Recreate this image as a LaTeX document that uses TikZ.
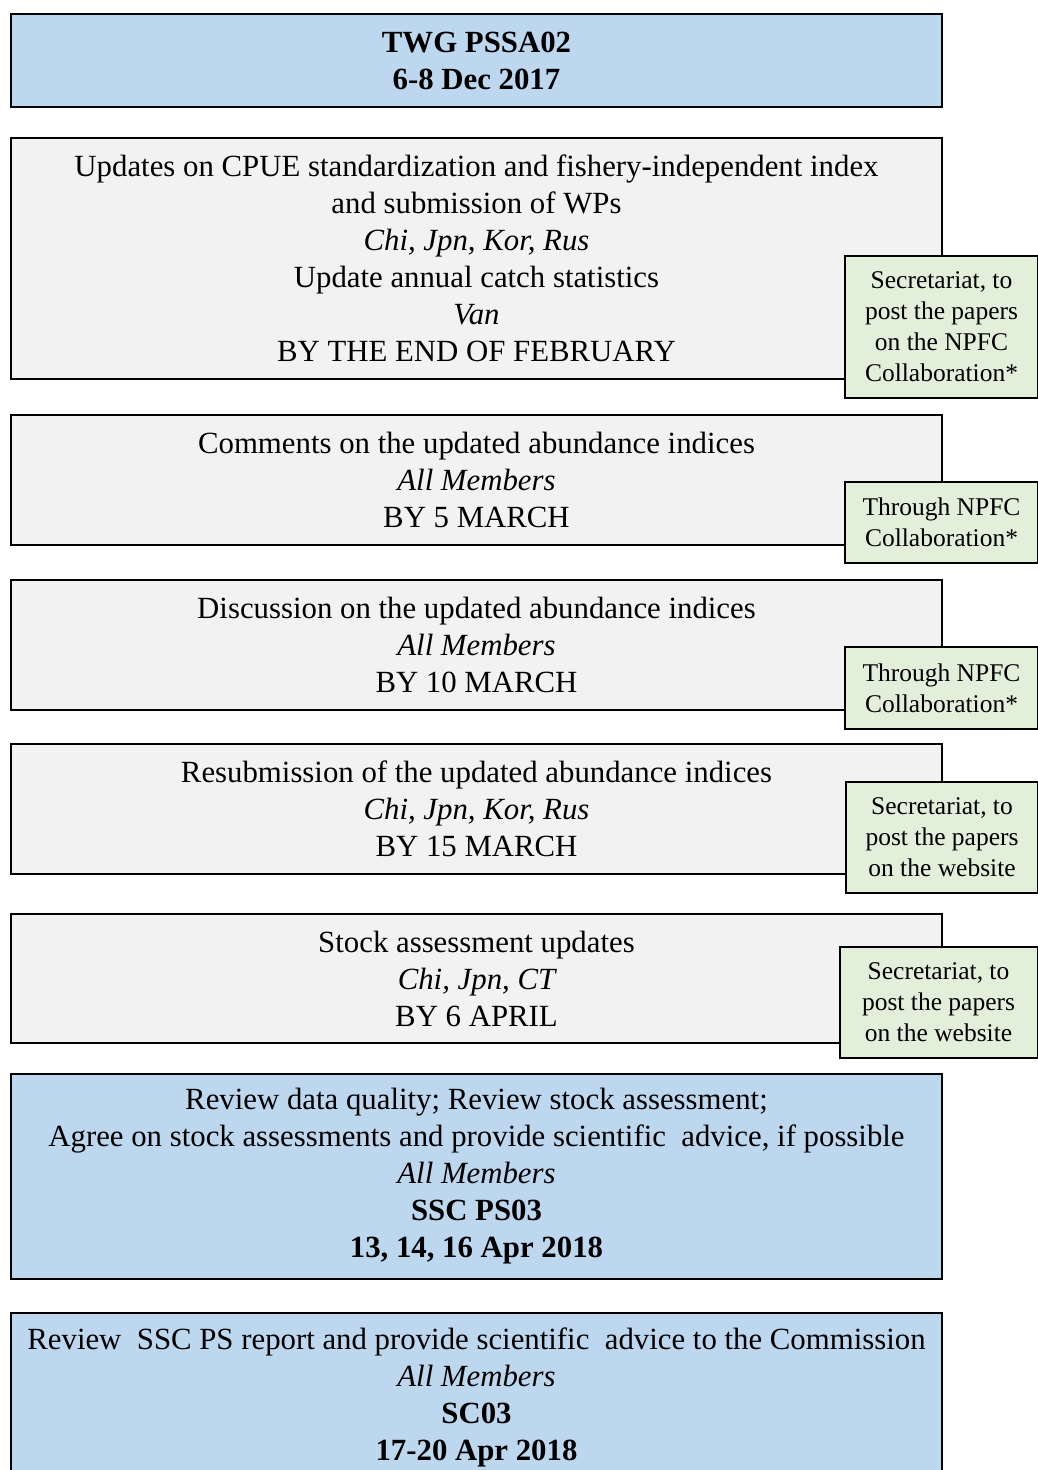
\documentclass[tikz,border=0pt]{standalone}
\usepackage{fontspec}
\setmainfont{Liberation Serif}
\usepackage{xcolor}
\definecolor{planblue}{HTML}{BDD7EE}
\definecolor{plangrey}{HTML}{F2F2F2}
\definecolor{plangreen}{HTML}{E2EFDA}
\tikzset{
	stagebox/.style={
		draw=black,
		line width=2pt,
		align=center,
		minimum width=931pt,
		inner sep=0pt,
		font=\fontsize{30.8}{37}\selectfont
	},
	bluebox/.style={stagebox,fill=planblue},
	greybox/.style={stagebox,fill=plangrey},
	notebox/.style={
		draw=black,
		line width=2pt,
		fill=plangreen,
		align=center,
		inner sep=0pt,
		font=\fontsize{25.5}{31}\selectfont
	}
}

\begin{document}
\begin{tikzpicture}[x=1pt,y=-1pt]
	\useasboundingbox (0,0) rectangle (1038,1470);

	% meetings and tasks
	\node[bluebox,minimum height=93pt] (twg) at (476.5,60.5) {\bfseries TWG PSSA02\\ \bfseries 6-8 Dec 2017};
	\node[greybox,minimum height=241pt] (updates) at (476.5,258.5) {Updates on CPUE standardization and fishery-independent index\\ and submission of WPs\\ \itshape Chi, Jpn, Kor, Rus\\ Update annual catch statistics\\ \itshape Van\\ BY THE END OF FEBRUARY};
	\node[greybox,minimum height=130pt] (comments) at (476.5,480) {Comments on the updated abundance indices\\ \itshape All Members\\ BY 5 MARCH};
	\node[greybox,minimum height=130pt] (discussion) at (476.5,645) {Discussion on the updated abundance indices\\ \itshape All Members\\ BY 10 MARCH};
	\node[greybox,minimum height=130pt] (resubmit) at (476.5,809) {Resubmission of the updated abundance indices\\ \itshape Chi, Jpn, Kor, Rus\\ BY 15 MARCH};
	\node[greybox,minimum height=129pt] (stockupd) at (476.5,978.5) {Stock assessment updates\\ \itshape Chi, Jpn, CT\\ BY 6 APRIL};
	\node[bluebox,minimum height=205pt] (sscps) at (476.5,1176.5) {Review data quality; Review stock assessment;\\ Agree on stock assessments and provide scientific\ \ advice, if possible\\ \itshape All Members\\ \bfseries SSC PS03\\ \bfseries 13, 14, 16 Apr 2018};
	\node[bluebox,minimum height=169pt] (scmeet) at (476.5,1397.5) {Review\ \ SSC PS report and provide scientific\ \ advice to the Commission\\ \itshape All Members\\ \bfseries SC03\\ \bfseries 17-20 Apr 2018};

	% secretariat notes
	\node[notebox,minimum width=193pt,minimum height=142pt] (postA) at (941.5,327) {Secretariat, to\\ post the papers\\ on the NPFC\\ Collaboration*};
	\node[notebox,minimum width=193pt,minimum height=81pt] (npfcA) at (941.5,522.5) {Through NPFC\\ Collaboration*};
	\node[notebox,minimum width=193pt,minimum height=82pt] (npfcB) at (941.5,688) {Through NPFC\\ Collaboration*};
	\node[notebox,minimum width=192pt,minimum height=111pt] (postB) at (942,837.5) {Secretariat, to\\ post the papers\\ on the website};
	\node[notebox,minimum width=198pt,minimum height=111pt] (postC) at (938.5,1002.5) {Secretariat, to\\ post the papers\\ on the website};
\end{tikzpicture}
\end{document}
